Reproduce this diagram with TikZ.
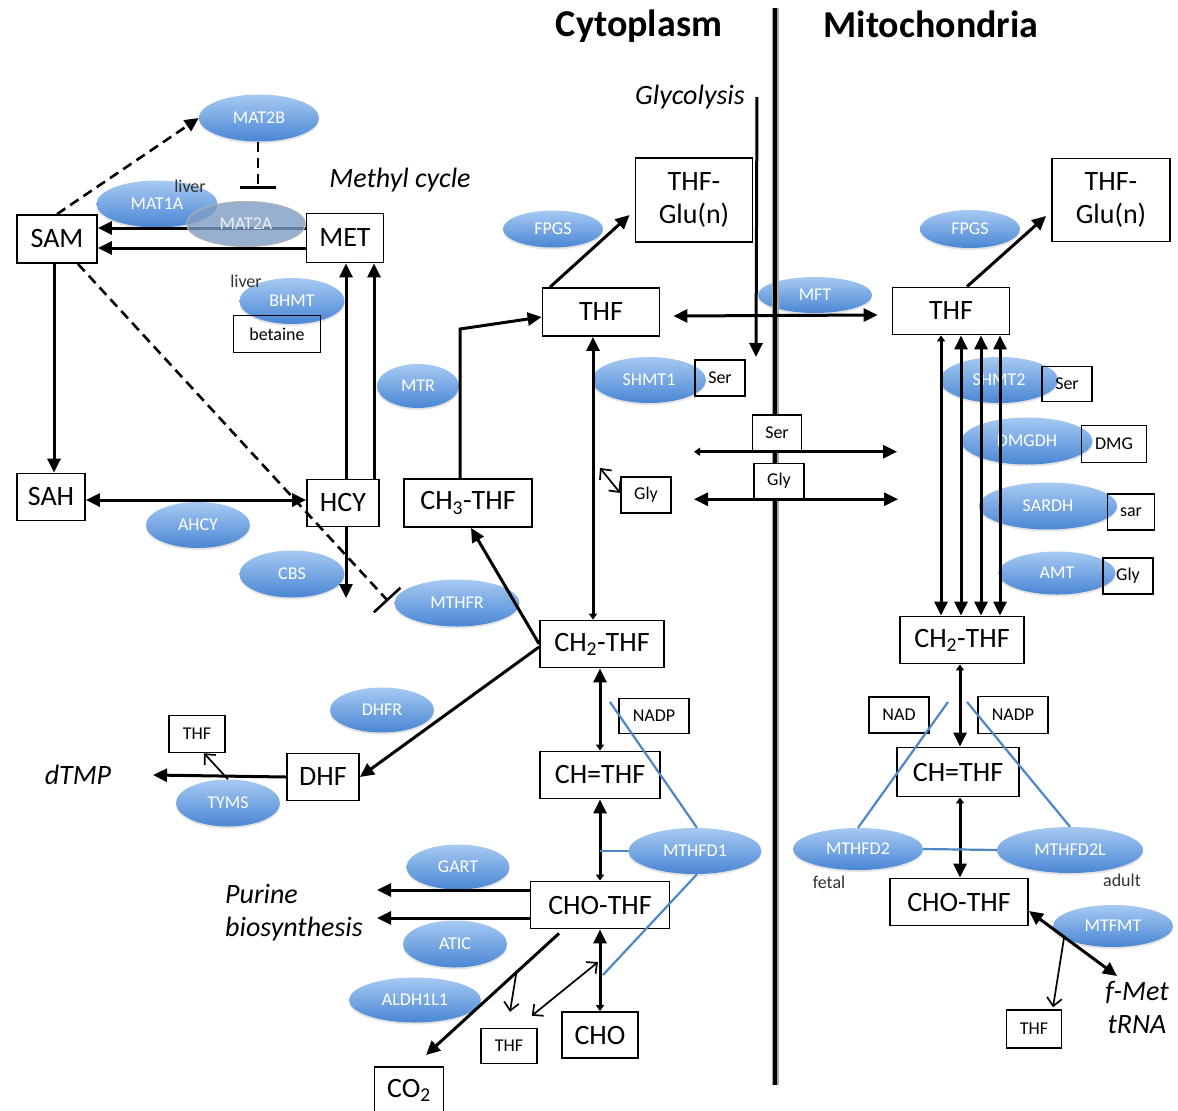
\documentclass[tikz,border=0pt]{standalone}
\usepackage{fontspec}
\setmainfont{Carlito}
\usetikzlibrary{arrows.meta,shapes.geometric,shadows,calc}

\definecolor{enzlight}{HTML}{A6CAF2}
\definecolor{enzdark}{HTML}{4A86D4}
\definecolor{linkblue}{HTML}{4F86C6}
\definecolor{matgrey}{HTML}{7E9CC3}

\tikzset{
  pool/.style={draw, line width=1.8pt, inner sep=0pt, font=\fontsize{28}{33}\selectfont},
  cofac/.style={draw, line width=1.5pt, inner sep=0pt, font=\fontsize{18}{20}\selectfont},
  enzyme/.style={ellipse, inner sep=0pt, top color=enzlight, bottom color=enzdark, text=white,
    font=\fontsize{18}{20}\selectfont,
    drop shadow={opacity=0.22, shadow xshift=0pt, shadow yshift=-2pt}},
  note/.style={inner sep=1pt, text=black!80, font=\fontsize{18}{20}\selectfont},
  pathway/.style={inner sep=2pt, font=\fontsize{28}{33}\selectfont\itshape},
  Big/.tip={Triangle[length=14pt,width=13pt]},
  Sm/.tip={Triangle[length=6pt,width=8pt]},
  Opn/.tip={Straight Barb[length=8pt,width=15pt]},
  rxn/.style={line width=3pt},
  minor/.style={line width=1.7pt},
  regul/.style={line width=2.6pt, dash pattern=on 10pt off 6pt},
  dlink/.style={linkblue, line width=2.2pt},
}

\begin{document}
\begin{tikzpicture}[x=1pt, y=-1pt]
\useasboundingbox (0,0) rectangle (1178,1111);

% membrane
\node[enzyme, minimum width=114pt, minimum height=36pt] (mft) at (815,295) {MFT};
\coordinate (memtop) at (775,8);
\coordinate (membot) at (775,1085);
\draw[line width=7pt, black!35] (memtop) -- (membot);
\draw[line width=4pt] (memtop) -- (membot);

\node[font=\bfseries\fontsize{38}{40}\selectfont] (cyto) at (639,26) {Cytoplasm};
\node[font=\bfseries\fontsize{38}{40}\selectfont] (mito) at (931,24) {Mitochondria};

% enzymes, cytoplasm
\node[enzyme, minimum width=120pt, minimum height=47pt] (mat2b) at (259,118) {MAT2B};
\node[enzyme, minimum width=121pt, minimum height=47pt] (mat1a) at (157,204) {MAT1A};
\node[enzyme, minimum width=105pt, minimum height=46pt] (bhmt) at (292,301) {BHMT};
\node[enzyme, minimum width=82pt, minimum height=44pt] (mtr) at (418,386) {MTR};
\node[enzyme, minimum width=104pt, minimum height=46pt] (ahcy) at (198,525) {AHCY};
\node[enzyme, minimum width=105pt, minimum height=47pt] (cbs) at (292,574) {CBS};
\node[enzyme, minimum width=125pt, minimum height=47pt] (mthfr) at (457,603) {MTHFR};
\node[enzyme, minimum width=104pt, minimum height=45pt] (dhfr) at (382,710) {DHFR};
\node[enzyme, minimum width=104pt, minimum height=47pt] (tyms) at (228,803) {TYMS};
\node[enzyme, minimum width=103pt, minimum height=45pt] (gart) at (458,867) {GART};
\node[enzyme, minimum width=104pt, minimum height=47pt] (atic) at (455,944) {ATIC};
\node[enzyme, minimum width=132pt, minimum height=45pt] (aldh) at (415,1000) {ALDH1L1};
\node[enzyme, minimum width=133pt, minimum height=46pt] (mthfd1) at (695,851) {MTHFD1};
\node[enzyme, minimum width=100pt, minimum height=37pt] (fpgsc) at (553,229) {FPGS};
\node[enzyme, minimum width=114pt, minimum height=46pt] (shmt1) at (649,380) {SHMT1};

% enzymes, mitochondria
\node[enzyme, minimum width=100pt, minimum height=38pt] (fpgsm) at (970,229) {FPGS};
\node[enzyme, minimum width=118pt, minimum height=46pt] (shmt2) at (999,380) {SHMT2};
\node[enzyme, minimum width=131pt, minimum height=47pt] (dmgdh) at (1027,441) {DMGDH};
\node[enzyme, minimum width=138pt, minimum height=47pt] (sardh) at (1048,506) {SARDH};
\node[enzyme, minimum width=117pt, minimum height=43pt] (amt) at (1057,573) {AMT};
\node[enzyme, minimum width=130pt, minimum height=42pt] (mthfd2) at (858,849) {MTHFD2};
\node[enzyme, minimum width=146pt, minimum height=46pt] (mthfd2l) at (1070,850) {MTHFD2L};
\node[enzyme, minimum width=120pt, minimum height=42pt] (mtfmt) at (1113,926) {MTFMT};

% metabolites
\node[pool, minimum width=80pt, minimum height=48pt] (sam) at (57,239) {SAM};
\node[pool, minimum width=77pt, minimum height=49pt] (met) at (345,238) {MET};
\node[pool, minimum width=68pt, minimum height=47pt] (sah) at (51,497) {SAH};
\node[pool, minimum width=72pt, minimum height=47pt] (hcy) at (343,503) {HCY};
\node[pool, minimum width=128pt, minimum height=48pt] (ch3) at (468,503) {CH\textsubscript{3}-THF};
\node[pool, minimum width=117pt, minimum height=48pt] (thfc) at (601,312) {THF};
\node[pool, minimum width=117pt, minimum height=84pt, align=center] (gluc) at (694,200) {THF-\\Glu(n)};
\node[pool, minimum width=124pt, minimum height=47pt] (ch2c) at (602,644) {CH\textsubscript{2}-THF};
\node[pool, minimum width=120pt, minimum height=47pt] (chc) at (600,775) {CH=THF};
\node[pool, minimum width=139pt, minimum height=47pt] (choc) at (600,905) {CHO-THF};
\node[pool, minimum width=72pt, minimum height=47pt] (dhf) at (323,777) {DHF};
\node[pool, minimum width=76pt, minimum height=46pt] (cho) at (600,1035) {CHO};
\node[pool, minimum width=69pt, minimum height=46pt] (co2) at (409,1090) {CO\textsubscript{2}};
\node[pool, minimum width=117pt, minimum height=47pt] (thfm) at (951,311) {THF};
\node[pool, minimum width=118pt, minimum height=83pt, align=center] (glum) at (1111,200) {THF-\\Glu(n)};
\node[pool, minimum width=124pt, minimum height=47pt] (ch2m) at (962,640) {CH\textsubscript{2}-THF};
\node[pool, minimum width=122pt, minimum height=49pt] (chm) at (958,772) {CH=THF};
\node[pool, minimum width=138pt, minimum height=47pt] (chom) at (959,902) {CHO-THF};

% cofactors and small substrates
\node[cofac, minimum width=87pt, minimum height=37pt] (betaine) at (277,334) {betaine};
\node[cofac, minimum width=56pt, minimum height=37pt] (thfd) at (197,734) {THF};
\node[cofac, minimum width=56pt, minimum height=35pt] (thfb) at (509,1046) {THF};
\node[cofac, minimum width=50pt, minimum height=36pt] (ser1) at (720,378) {Ser};
\node[cofac, minimum width=50pt, minimum height=36pt] (glyc) at (646,495) {Gly};
\node[cofac, fill=white, minimum width=49pt, minimum height=36pt] (serm) at (777,433) {Ser};
\node[cofac, fill=white, minimum width=50pt, minimum height=35pt] (glym) at (779,481) {Gly};
\node[cofac, minimum width=70pt, minimum height=35pt] (nadpc) at (654,716) {NADP};
\node[cofac, minimum width=60pt, minimum height=36pt] (nad) at (899,715) {NAD};
\node[cofac, minimum width=70pt, minimum height=37pt] (nadpm) at (1013,715) {NADP};
\node[cofac, minimum width=50pt, minimum height=35pt] (ser2) at (1067,384) {Ser};
\node[cofac, minimum width=65pt, minimum height=37pt] (dmg) at (1114,444) {DMG};
\node[cofac, minimum width=47pt, minimum height=36pt] (sar) at (1131,512) {sar};
\node[cofac, minimum width=50pt, minimum height=36pt] (glymt) at (1128,576) {Gly};
\node[cofac, minimum width=55pt, minimum height=38pt] (thfmt) at (1034,1029) {THF};

% texts
\node[pathway] (methyl) at (400,180) {Methyl cycle};
\node[note] (liver1) at (190,186) {liver};
\node[note] (liver2) at (246,281) {liver};
\node[pathway] (glyco) at (690,97) {Glycolysis};
\node[pathway] (dtmp) at (78,775) {dTMP};
\node[pathway, align=left] (purine) at (294,913) {Purine\\biosynthesis};
\node[note] (fetal) at (829,882) {fetal};
\node[note] (adult) at (1122,880) {adult};
\node[pathway, align=center] (fmet) at (1137,1007) {f-Met\\tRNA};

% methyl cycle
\draw[regul, -{Big}] (sam.north) -- (mat2b.west);
\coordinate (mat2aBar) at (258,189);
\draw[regul, -{Bar[width=36pt]}] ([xshift=-1pt]mat2b.south) -- (mat2aBar);
\draw[rxn, -{Big}] ([yshift=10pt]met.west) -- ([yshift=10pt]met.west -| sam.east);
\draw[rxn, -{Big}] ([yshift=-10pt]met.west) -- ([yshift=-10pt]met.west -| sam.east);
\draw[rxn, -{Big}] ([xshift=-3pt]sam.south) -- ([xshift=-3pt]sam.south |- sah.north);
\draw[rxn, {Big}-{Big}] ([yshift=-3pt]sah.east) -- ([yshift=-3pt]sah.east -| hcy.west);
\draw[rxn, -{Big}] ([xshift=3pt]hcy.north) -- ([xshift=3pt]hcy.north |- met.south);
\draw[rxn, -{Big}] ([xshift=31pt]hcy.north) -- ([xshift=31pt]hcy.north |- met.south);
\coordinate (cbsEnd) at (346,598);
\draw[rxn, -{Big}] ([xshift=3pt]hcy.south) -- (cbsEnd);
\coordinate (mthfrBar) at (388,601);
\draw[regul, -{Bar[width=36pt]}] ([xshift=-20pt]sam.south east) -- (mthfrBar);

% folate, cytoplasm
\coordinate (mtrCorner) at (460,329);
\draw[rxn, -{Big}] ([xshift=-8pt]ch3.north) -- (mtrCorner) -- ([yshift=-5pt]thfc.west);
\draw[rxn, -{Big}] (ch2c.west) -- ([xshift=3pt]ch3.south);
\draw[rxn, -{Big}] ([yshift=-3pt]ch2c.west) -- (dhf.east);
\coordinate (dtmpEnd) at (153,775);
\draw[rxn, -{Big}] (dhf.west) -- (dtmpEnd);
\draw[minor, -{Opn}] (tyms.north) -- ([xshift=7pt]thfd.south);
\draw[rxn, {Big}-{Sm}] ([xshift=-8pt]thfc.south) -- ([xshift=-8pt]thfc.south |- ch2c.north);
\coordinate (glyTip) at (600,468);
\draw[minor, {Opn}-{Opn}] ([yshift=2pt]glyc.west) -- (glyTip);
\draw[rxn, -{Big}] ([xshift=-51pt]thfc.north) -- ([shift={(-5,15)}]gluc.west);
\draw[rxn, {Big}-{Big}] ([shift={(13,4)}]thfc.east) -- ([shift={(-14,4)}]thfm.west);
\coordinate (glycoEnd) at (756,357);
\draw[rxn, -{Big}] ([xshift=10pt]glyco.east) -- (glycoEnd);
\draw[rxn, {Sm}-{Big}] ([xshift=-83pt]serm.south) -- ([xshift=120pt]serm.south);
\draw[rxn, {Big}-{Big}] ([xshift=-85pt]glym.south) -- ([xshift=119pt]glym.south);

% one-carbon units, cytoplasm
\draw[rxn, {Sm}-{Big}] (chc.north) -- (chc.north |- ch2c.south);
\draw[rxn, {Sm}-{Big}] (choc.north) -- (choc.north |- chc.south);
\draw[rxn, {Sm}-{Big}] (cho.north) -- (cho.north |- choc.south);
\coordinate (purA) at (377,890);
\coordinate (purB) at (377,918);
\draw[rxn, -{Big}] ([yshift=15pt]choc.west) -- (purA);
\draw[rxn, -{Big}] ([yshift=-13pt]choc.west) -- (purB);
\coordinate (aldhStart) at ([shift={(-41,4)}]choc.south);
\coordinate (co2End) at (426,1055);
\draw[rxn, -{Big}] (aldhStart) -- (co2End);
\draw[minor, -{Opn}] ($(aldhStart)!0.32!(co2End)$) -- ([xshift=1pt,yshift=16pt]thfb.north);
\coordinate (choMid) at ($(cho.north)!0.6!(choc.south)$);
\draw[minor, {Opn}-{Opn}] ([shift={(-6,-12)}]thfb.north east) -- ([xshift=-2pt]choMid);
\coordinate (d1top) at (610,702);
\coordinate (d1bot) at (603,975);
\draw[dlink] (d1top) -- ([xshift=2pt]mthfd1.north);
\draw[dlink] (mthfd1.west) -- (mthfd1.west -| choc.north);
\draw[dlink] ([xshift=2pt]mthfd1.south) -- (d1bot);

% folate, mitochondria
\draw[rxn, -{Big}] ([xshift=16pt]thfm.north) -- ([shift={(-5,16)}]glum.west);
\draw[rxn, {Sm}-{Big}] ([xshift=-10pt]thfm.south) -- ([xshift=-10pt]thfm.south |- ch2m.north);
\foreach \dx in {10pt,30pt,49pt}
  \draw[rxn, {Big}-{Big}] ([xshift=\dx]thfm.south) -- ([xshift=\dx]thfm.south |- ch2m.north);
\draw[rxn, {Sm}-{Big}] ([xshift=-2pt]ch2m.south) -- ([xshift=-2pt]ch2m.south |- chm.north);
\draw[rxn, {Sm}-{Big}] ([xshift=2pt]chm.south) -- ([xshift=2pt]chm.south |- chom.north);
\coordinate (d2a) at (948,702);
\coordinate (d2b) at (967,702);
\draw[dlink] (d2a) -- (mthfd2.north);
\draw[dlink] (d2b) -- (mthfd2l.north);
\draw[dlink] (mthfd2.east) -- (mthfd2l.west);
\coordinate (mtfmtStart) at ([yshift=-9pt]chom.east);
\coordinate (fmetEnd) at (1117,976);
\draw[rxn, {Big}-{Big}] (mtfmtStart) -- (fmetEnd);
\draw[minor, -{Opn}] ($(mtfmtStart)!0.4!(fmetEnd)$) -- ([xshift=19pt,yshift=2pt]thfmt.north);

% MAT2A lies over the arrows
\node[ellipse, inner sep=0pt, minimum width=119pt, minimum height=45pt, draw=black!30, line width=1pt,
  fill=matgrey, fill opacity=0.8, text opacity=1, text=white!85!matgrey,
  font=\fontsize{18}{20}\selectfont] (mat2a) at (246,224) {MAT2A};
\end{tikzpicture}
\end{document}
